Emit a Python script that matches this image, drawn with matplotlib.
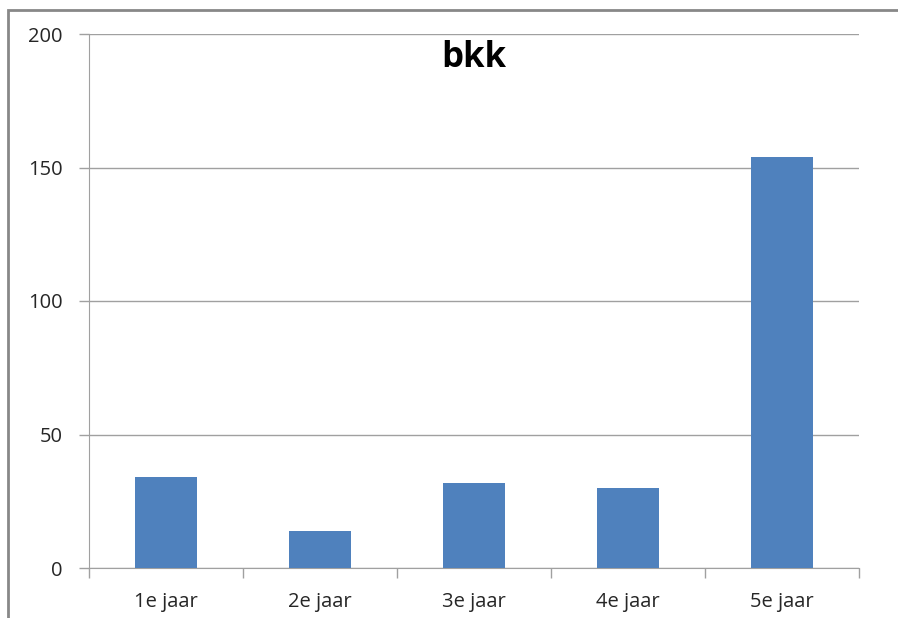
import matplotlib.pyplot as plt
from matplotlib.patches import Rectangle

# data
categories = ['1e jaar', '2e jaar', '3e jaar', '4e jaar', '5e jaar']
values = [34, 14, 32, 30, 154]
yticks = [0, 50, 100, 150, 200]

W, H = 898, 618
fig = plt.figure(figsize=(W / 100, H / 100), dpi=100)
ax = fig.add_axes([89 / W, 1 - 568 / H, (859 - 89) / W, (568 - 34) / H])

fam = ['Open Sans', 'DejaVu Sans']

x = range(len(categories))
ax.bar(x, values, width=0.4, color='#4F81BD', zorder=3)

ax.set_xlim(-0.5, len(categories) - 0.5)
ax.set_ylim(0, 200)
ax.set_yticks(yticks)
ax.set_yticklabels([str(v) for v in yticks], fontsize=14.5, color='#262626',
                   family=fam)
ax.set_xticks(list(x))
ax.set_xticklabels(categories, fontsize=14.5, color='#262626', family=fam)
ax.tick_params(axis='x', length=0, pad=17)
ax.tick_params(axis='y', length=7, width=1, color='#A0A0A0', pad=12)

# category boundary ticks below the x axis
ax.set_xticks([i - 0.5 for i in range(len(categories) + 1)], minor=True)
ax.tick_params(axis='x', which='minor', length=7, width=1, color='#A0A0A0')

ax.grid(axis='y', color='#A0A0A0', linewidth=1, zorder=0)
for side in ['top', 'right']:
    ax.spines[side].set_visible(False)
ax.spines['left'].set_color('#A0A0A0')
ax.spines['bottom'].set_color('#A0A0A0')

ax.text(0.5, 0.955, 'bkk', transform=ax.transAxes, ha='center', va='center',
        fontsize=25, fontweight='bold', family=fam)

# outer chart frame (left and top edges visible)
fig.patches.append(Rectangle((8 / W, -0.1), 1.2, 1 - 10 / H + 0.1,
                             transform=fig.transFigure, fill=False,
                             edgecolor='#888888', linewidth=2))

fig.savefig('out.png', dpi=100)
